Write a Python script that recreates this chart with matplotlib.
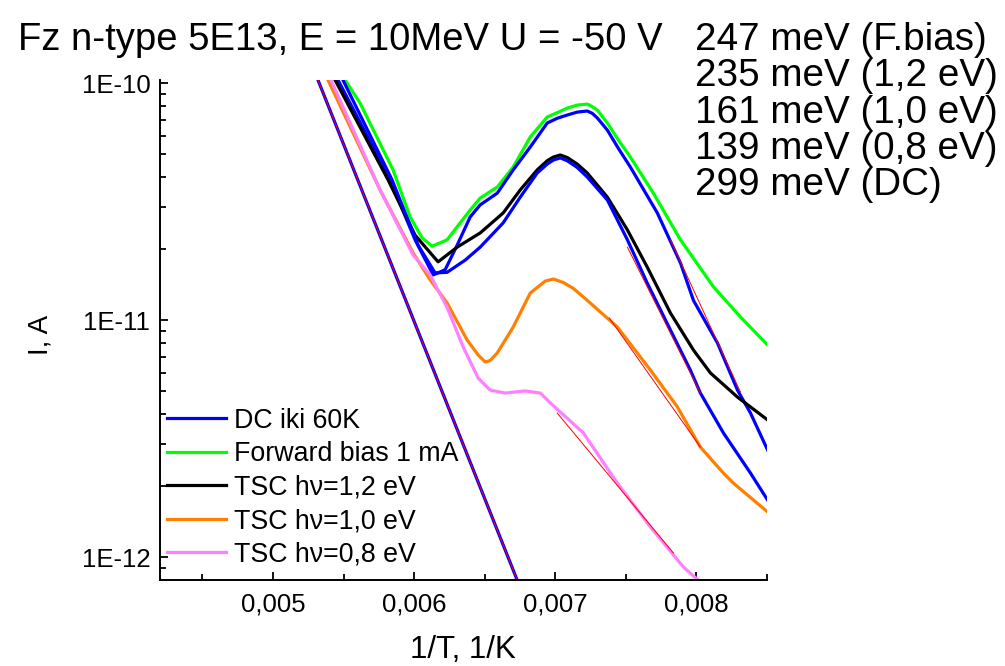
import numpy as np
import matplotlib.pyplot as plt
from matplotlib.ticker import MultipleLocator, FuncFormatter, LogLocator

plt.rcParams['font.family'] = ['Liberation Sans', 'DejaVu Sans']

# 1/T (1/K) and current I (A)
x_green = [0.005511, 0.005617, 0.005851, 0.005972, 0.006057, 0.006128, 0.006234, 0.006326,
           0.006397, 0.006468, 0.006589, 0.006702, 0.006823, 0.006943, 0.007014, 0.007085, 0.007156,
           0.007227, 0.007262, 0.007298, 0.007369, 0.007447, 0.007532, 0.007695, 0.007887, 0.008121,
           0.008312, 0.008504]
i_green = [1.03e-10, 8.23e-11, 4.30e-11, 2.72e-11, 2.22e-11, 2.05e-11, 2.18e-11, 2.57e-11,
           2.91e-11, 3.27e-11, 3.64e-11, 4.42e-11, 5.92e-11, 7.19e-11, 7.50e-11, 7.84e-11, 8.07e-11,
           8.15e-11, 7.95e-11, 7.69e-11, 6.78e-11, 5.75e-11, 4.87e-11, 3.43e-11, 2.18e-11, 1.38e-11,
           1.03e-11, 7.84e-12]

x_blue_a = [0.005461, 0.005830, 0.006007, 0.006135, 0.006220, 0.006305, 0.006397, 0.006468,
            0.006589, 0.006702, 0.006823, 0.006943, 0.007014, 0.007085, 0.007156, 0.007227,
            0.007262, 0.007298, 0.007369, 0.007447, 0.007532, 0.007723, 0.007887, 0.007979,
            0.008149, 0.008291, 0.008383, 0.008504]
i_blue_a = [1.03e-10, 3.90e-11, 2.18e-11, 1.55e-11, 1.63e-11, 2.07e-11, 2.72e-11, 3.06e-11,
            3.43e-11, 4.30e-11, 5.37e-11, 6.78e-11, 7.10e-11, 7.33e-11, 7.54e-11, 7.62e-11,
            7.45e-11, 7.12e-11, 6.33e-11, 5.30e-11, 4.42e-11, 2.83e-11, 1.74e-11, 1.21e-11,
            8.00e-12, 5.06e-12, 4.05e-12, 2.83e-12]

x_blue_b = [0.005496, 0.005844, 0.006028, 0.006149, 0.006234, 0.006362, 0.006468, 0.006631,
            0.006752, 0.006872, 0.006943, 0.006986, 0.007035, 0.007085, 0.007156, 0.007227,
            0.007369, 0.007511, 0.007652, 0.007816, 0.007957, 0.008028, 0.008191, 0.008383, 0.008504]
i_blue_b = [1.03e-10, 3.90e-11, 2.07e-11, 1.58e-11, 1.59e-11, 1.79e-11, 2.03e-11, 2.57e-11,
            3.30e-11, 4.17e-11, 4.55e-11, 4.73e-11, 4.83e-11, 4.70e-11, 4.40e-11, 4.01e-11,
            3.21e-11, 2.18e-11, 1.43e-11, 9.07e-12, 6.15e-12, 4.92e-12, 3.34e-12, 2.26e-12, 1.74e-12]

x_dc = [0.005319, 0.006730]
i_dc = [1.03e-10, 8.0e-13]

x_black = [0.005440, 0.005816, 0.006007, 0.006170, 0.006305, 0.006468, 0.006631, 0.006752,
           0.006872, 0.006943, 0.006986, 0.007035, 0.007085, 0.007156, 0.007227, 0.007369,
           0.007511, 0.007652, 0.007816, 0.007979, 0.008099, 0.008291, 0.008504]
i_black = [1.03e-10, 3.90e-11, 2.28e-11, 1.76e-11, 2.03e-11, 2.33e-11, 2.83e-11, 3.54e-11,
           4.30e-11, 4.70e-11, 4.87e-11, 4.97e-11, 4.85e-11, 4.55e-11, 4.17e-11, 3.30e-11,
           2.40e-11, 1.67e-11, 1.07e-11, 7.47e-12, 5.98e-12, 4.73e-12, 3.79e-12]

x_orange = [0.005390, 0.005759, 0.005993, 0.006113, 0.006234, 0.006376, 0.006454, 0.006504,
            0.006539, 0.006589, 0.006702, 0.006823, 0.006929, 0.006986, 0.007057, 0.007128,
            0.007227, 0.007440, 0.007674, 0.007865, 0.008028, 0.008191, 0.008262, 0.008504]
i_orange = [1.03e-10, 3.54e-11, 1.92e-11, 1.48e-11, 1.18e-11, 8.23e-12, 7.12e-12, 6.65e-12,
            6.75e-12, 7.26e-12, 9.34e-12, 1.30e-11, 1.46e-11, 1.49e-11, 1.44e-11, 1.36e-11,
            1.21e-11, 9.34e-12, 6.15e-12, 4.30e-12, 2.91e-12, 2.26e-12, 2.05e-12, 1.55e-12]

x_pink = [0.005411, 0.005759, 0.005993, 0.006113, 0.006234, 0.006348, 0.006454, 0.006539,
          0.006645, 0.006787, 0.006894, 0.006965, 0.007199, 0.007440, 0.007674, 0.007908, 0.008028]
i_pink = [1.03e-10, 3.54e-11, 1.88e-11, 1.55e-11, 1.13e-11, 7.69e-12, 5.69e-12, 5.06e-12,
          4.92e-12, 5.02e-12, 4.92e-12, 4.47e-12, 3.34e-12, 2.05e-12, 1.34e-12, 9.07e-13, 7.84e-13]

# straight Arrhenius fits (red)
fit_x = [[0.005319, 0.006730], [0.007816, 0.008312], [0.007511, 0.008028],
         [0.007383, 0.008028], [0.007014, 0.007837]]
fit_i = [[1.03e-10, 8.0e-13], [2.18e-11, 4.97e-12], [2.03e-11, 4.92e-12],
         [1.02e-11, 2.91e-12], [4.05e-12, 1.04e-12]]

energies = ['247 meV (F.bias)', '235 meV (1,2 eV)', '161 meV (1,0 eV)',
            '139 meV (0,8 eV)', '299 meV (DC)']

fig = plt.figure(figsize=(10.05, 6.66), dpi=100)
ax = fig.add_axes([0.1592, 0.1291, 0.6040, 0.7508])

lw = 2.3
ax.plot(x_green, i_green, color='#00FF00', lw=lw)
ax.plot(x_blue_a, i_blue_a, color='#0000FF', lw=lw)
ax.plot(x_black, i_black, color='black', lw=lw)
ax.plot(x_blue_b, i_blue_b, color='#0000FF', lw=lw)
ax.plot(x_orange, i_orange, color='#FF8000', lw=lw)
ax.plot(x_pink, i_pink, color='#FF80FF', lw=lw)
ax.plot(x_dc, i_dc, color='#0000FF', lw=lw)
for fx, fi in zip(fit_x, fit_i):
    ax.plot(fx, fi, color='#FF0000', lw=0.7)

# legend handles
h = [ax.plot([], [], color=c, lw=lw)[0] for c in ['#0000FF', '#00FF00', 'black', '#FF8000', '#FF80FF']]
labels = ['DC iki 60K', 'Forward bias 1 mA', 'TSC h\u03bd=1,2 eV', 'TSC h\u03bd=1,0 eV', 'TSC h\u03bd=0,8 eV']
ax.legend(h, labels, loc='upper left', bbox_to_anchor=(0.0115, 0.345), frameon=False,
          fontsize=19.3, handlelength=2.2, handletextpad=0.3, labelspacing=0.28,
          borderaxespad=0, borderpad=0)

ax.set_yscale('log')
ax.set_xlim(0.0042, 0.0085)
ax.set_ylim(8.0e-13, 1.03e-10)

ax.xaxis.set_major_locator(MultipleLocator(0.001))
ax.xaxis.set_minor_locator(MultipleLocator(0.0005))
ax.xaxis.set_major_formatter(FuncFormatter(lambda v, p: f'{v:.3f}'.replace('.', ',')))
ax.yaxis.set_major_locator(LogLocator(base=10))
ax.yaxis.set_minor_locator(LogLocator(base=10, subs=np.arange(2, 10)))
ax.yaxis.set_major_formatter(FuncFormatter(lambda v, p: f'1E{int(round(np.log10(v)))}'))

ax.tick_params(which='both', direction='in', width=1.3, labelsize=18.5)
ax.tick_params(which='major', length=6)
ax.tick_params(which='minor', length=4)
ax.tick_params(axis='x', pad=9)
ax.tick_params(axis='y', pad=7)
for s in ['top', 'right']:
    ax.spines[s].set_visible(False)
for s in ['left', 'bottom']:
    ax.spines[s].set_linewidth(1.4)

fig.text(47 / 1005, 1 - 335 / 666, 'I, A', rotation=90, rotation_mode='anchor',
         fontsize=20, ha='center', va='baseline')
fig.text(463 / 1005, 1 - 658 / 666, '1/T, 1/K', fontsize=22.5, ha='center', va='baseline')

fig.text(18 / 1005, 1 - 40 / 666, 'Fz n-type 5E13, E = 10MeV U = -50 V', fontsize=27.5,
         ha='left', va='center')
for k, t in enumerate(energies):
    fig.text(695 / 1005, 1 - (40 + 36.3 * k) / 666, t, fontsize=27.8, ha='left', va='center')

fig.savefig('out.png', dpi=100)
